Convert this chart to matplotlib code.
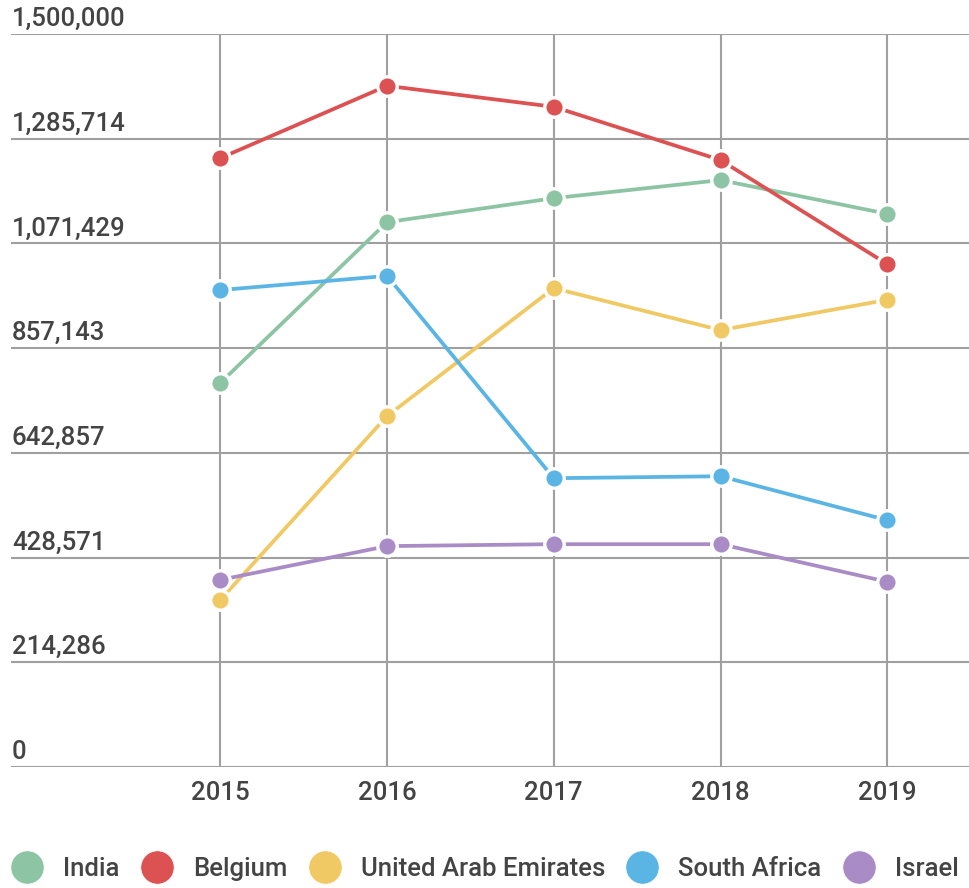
import matplotlib
matplotlib.use("Agg")
import matplotlib.pyplot as plt
from matplotlib.lines import Line2D
from matplotlib.transforms import blended_transform_factory, offset_copy

plt.rcParams['font.family'] = ['Roboto', 'DejaVu Sans']

years = [2015, 2016, 2017, 2018, 2019]
india = [786000, 1115000, 1164000, 1201000, 1132000]
belgium = [1246000, 1394000, 1351000, 1242000, 1029000]
uae = [342000, 718000, 980000, 894000, 956000]
south_africa = [976000, 1005000, 591000, 595000, 505000]
israel = [383000, 452000, 456000, 456000, 379000]

series_names = ["India", "Belgium", "United Arab Emirates", "South Africa", "Israel"]
series_values = [india, belgium, uae, south_africa, israel]
colors = ["#8cc4a4", "#dc5252", "#f0c864", "#5ab4e4", "#a98cc6"]

yticks = [0, 214286, 428571, 642857, 857143, 1071429, 1285714, 1500000]
ytick_labels = ["0", "214,286", "428,571", "642,857", "857,143", "1,071,429", "1,285,714", "1,500,000"]

fig = plt.figure(figsize=(9.69, 8.88), dpi=100)
ax = fig.add_axes([11/969, 1 - 767/888, 958/969, (767 - 34)/888])

ax.set_xlim(2013.745, 2019.49)
ax.set_ylim(0, 1500000)

for v in yticks:
    ax.axhline(v, color="#a0a0a0", lw=1.5, zorder=1)
for yr in years:
    ax.axvline(yr, color="#a0a0a0", lw=1.5, zorder=1)

for name, vals, c in zip(series_names, series_values, colors):
    ax.plot(years, vals, color=c, lw=2.7, zorder=3, solid_capstyle='butt')
    ax.plot(years, vals, linestyle='none', marker='o', markersize=14,
            markerfacecolor=c, markeredgecolor='white', markeredgewidth=2.4, zorder=4)

for s in ax.spines.values():
    s.set_visible(False)
ax.set_yticks([])
ax.set_xticks(years)
ax.set_xticklabels([str(y) for y in years], fontsize=18.5, color="#444444", fontweight='medium')
ax.tick_params(axis='x', length=0, pad=10)

trans = blended_transform_factory(ax.transAxes, ax.transData)
trans = offset_copy(trans, fig=fig, x=0, y=3, units='dots')
for v, lab in zip(yticks, ytick_labels):
    ax.text(0.001, v, lab, transform=trans, ha='left', va='bottom',
            fontsize=18.5, color="#444444", fontweight='medium')

handles = [Line2D([], [], linestyle='none', marker='o', markersize=24,
                  markerfacecolor=c, markeredgecolor='white', markeredgewidth=0.5)
           for c in colors]
leg = fig.legend(handles, series_names, loc='center', bbox_to_anchor=(0.5, 1 - 869/888),
                 ncol=5, frameon=False, handlelength=1.3,
                 prop={'size': 18.5, 'weight': 'medium'},
                 handletextpad=0.75, columnspacing=0.8, borderaxespad=0)
for t in leg.get_texts():
    t.set_color("#444444")

fig.savefig("out.png", dpi=100)
